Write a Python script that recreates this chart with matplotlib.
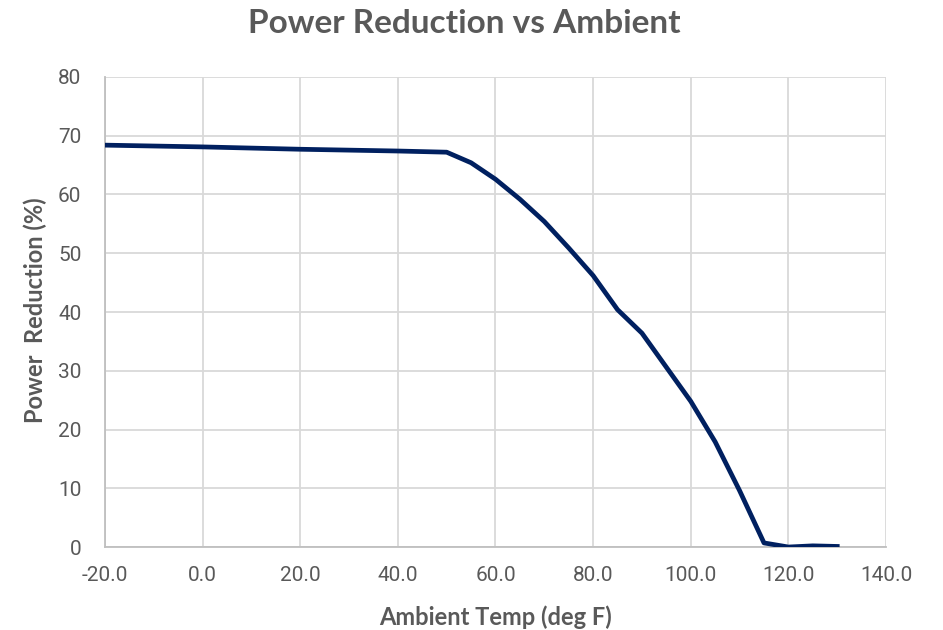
import numpy as np
import matplotlib.pyplot as plt

# ambient temperature (deg F) and power reduction (%)
temp = [-20, 0, 20, 40, 50, 55, 60, 65, 70, 75, 80, 85, 90, 95, 100, 105, 110, 115, 120, 125, 130]
reduction = [68.4, 68.1, 67.7, 67.4, 67.2, 65.4, 62.6, 59.2, 55.4, 50.9, 46.2, 40.4, 36.4, 30.6, 24.8, 17.9, 9.6, 0.7, 0.0, 0.2, 0.1]

xticks = [-20, 0, 20, 40, 60, 80, 100, 120, 140]
yticks = [0, 10, 20, 30, 40, 50, 60, 70, 80]

text_col = '#595959'

fig = plt.figure(figsize=(9.43, 6.3), dpi=100, facecolor='white')
ax = fig.add_axes([0.1113, 0.1317, 0.9396 - 0.1113, 0.8778 - 0.1317])

ax.plot(temp, reduction, color='#002060', linewidth=3.4, solid_joinstyle='round', zorder=3)

ax.set_xlim(-20, 140)
ax.set_ylim(0, 80)
ax.set_xticks(xticks)
ax.set_xticklabels([f'{t:.1f}' for t in xticks])
ax.set_yticks(yticks)
ax.set_yticklabels([str(t) for t in yticks])

ax.grid(True, color='#d9d9d9', linewidth=1.3)
ax.set_axisbelow(True)
for s in ['top', 'right']:
    ax.spines[s].set_visible(False)
for s in ['left', 'bottom']:
    ax.spines[s].set_color('#bfbfbf')
    ax.spines[s].set_linewidth(1.3)

ax.tick_params(length=0, labelsize=15, labelcolor=text_col)
ax.tick_params(axis='y', pad=17)
ax.tick_params(axis='x', pad=14)
for lab in ax.get_xticklabels() + ax.get_yticklabels():
    lab.set_family('Roboto')

# axis titles and chart title placed in figure coords
fig.text(0.5255, 0.021, 'Ambient Temp (deg F)', fontsize=17, fontweight='bold', color=text_col,
         family='Lato', ha='center', va='center')
fig.text(0.037, 0.508, 'Power  Reduction (%)', fontsize=17, fontweight='bold', color=text_col,
         family='Lato', ha='center', va='center', rotation=90)
fig.text(0.4926, 0.963, 'Power Reduction vs Ambient', fontsize=24, fontweight='bold', color=text_col,
         family='Lato', ha='center', va='center')

fig.savefig('out.png', dpi=100, facecolor='white')
